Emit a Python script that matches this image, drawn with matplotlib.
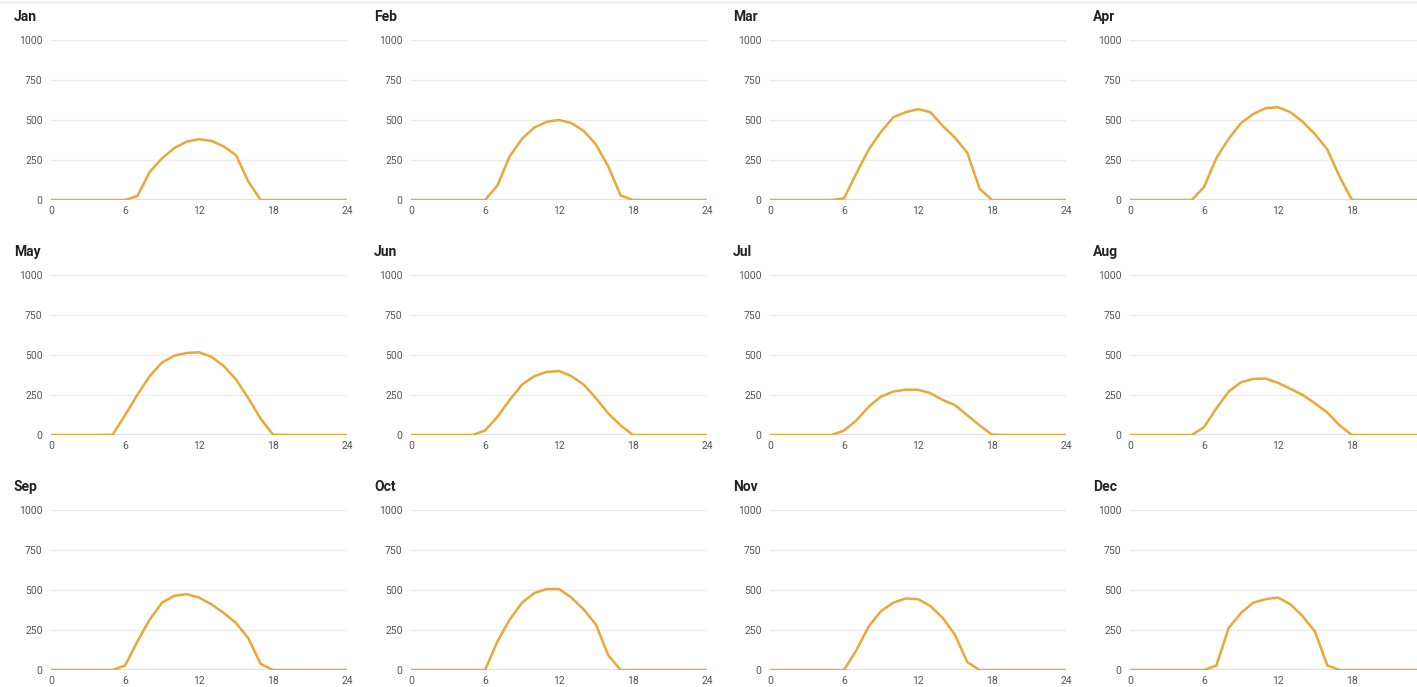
import numpy as np
import matplotlib.pyplot as plt

months = ["Jan", "Feb", "Mar", "Apr", "May", "Jun",
          "Jul", "Aug", "Sep", "Oct", "Nov", "Dec"]
hours = list(range(25))

# hourly values (W/m2-ish)
jan = [0, 0, 0, 0, 0, 0, 0, 25, 175, 260, 325, 365, 380, 370, 335, 280, 115, 0, 0, 0, 0, 0, 0, 0, 0]
feb = [0, 0, 0, 0, 0, 0, 0, 90, 272, 383, 453, 489, 500, 481, 432, 347, 209, 28, 0, 0, 0, 0, 0, 0, 0]
mar = [0, 0, 0, 0, 0, 0, 10, 166, 315, 426, 517, 549, 568, 549, 464, 389, 294, 70, 0, 0, 0, 0, 0, 0, 0]
apr = [0, 0, 0, 0, 0, 0, 81, 262, 383, 481, 538, 574, 580, 549, 489, 411, 315, 145, 0, 0, 0, 0, 0, 0, 0]
may = [0, 0, 0, 0, 0, 2, 123, 251, 368, 453, 496, 513, 517, 489, 432, 347, 230, 102, 2, 0, 0, 0, 0, 0, 0]
jun = [0, 0, 0, 0, 0, 0, 28, 113, 219, 315, 368, 394, 400, 368, 315, 230, 134, 60, 0, 0, 0, 0, 0, 0, 0]
jul = [0, 0, 0, 0, 0, 0, 28, 91, 177, 240, 272, 283, 283, 262, 219, 187, 123, 60, 2, 0, 0, 0, 0, 0, 0]
aug = [0, 0, 0, 0, 0, 0, 49, 166, 272, 330, 351, 353, 326, 289, 251, 198, 140, 60, 0, 0, 0, 0, 0, 0, 0]
sep = [0, 0, 0, 0, 0, 0, 28, 177, 315, 421, 464, 474, 453, 411, 357, 294, 198, 38, 0, 0, 0, 0, 0, 0, 0]
oct_ = [0, 0, 0, 0, 0, 0, 0, 177, 315, 421, 481, 506, 506, 453, 379, 283, 91, 0, 0, 0, 0, 0, 0, 0, 0]
nov = [0, 0, 0, 0, 0, 0, 0, 123, 272, 368, 421, 447, 443, 400, 326, 219, 49, 0, 0, 0, 0, 0, 0, 0, 0]
dec = [0, 0, 0, 0, 0, 0, 0, 28, 262, 357, 421, 443, 453, 411, 336, 240, 28, 0, 0, 0, 0, 0, 0, 0, 0]
series = [jan, feb, mar, apr, may, jun, jul, aug, sep, oct_, nov, dec]

yticks = [0, 250, 500, 750, 1000]
xticks = [0, 6, 12, 18, 24]

plt.rcParams['font.family'] = ['Roboto', 'DejaVu Sans']

W, H = 1417, 687
fig = plt.figure(figsize=(W / 100, H / 100), dpi=100)

# thin border line at the very top
fig.add_artist(plt.Line2D([0, 1], [1 - 2 / H, 1 - 2 / H], color="#e6e6e6", lw=1))

col_x = [51, 411, 770, 1130]
row_zero = [200, 435, 670]
pw, ph = 296, 160

for i, (name, vals) in enumerate(zip(months, series)):
    r, c = divmod(i, 4)
    left = col_x[c] / W
    bottom = 1 - row_zero[r] / H
    ax = fig.add_axes([left, bottom, pw / W, ph / H])
    ax.set_xlim(0, 24)
    ax.set_ylim(0, 1000)
    for y in yticks[1:]:
        ax.axhline(y, color="#ebebeb", lw=0.9, zorder=0)
    ax.axhline(0, color="#dde1ef", lw=1.6, zorder=1)
    ax.plot(hours, vals, color="#e9a83a", lw=1.8, zorder=3, solid_joinstyle="round")
    ax.set_yticks(yticks)
    ax.set_xticks(xticks)
    ax.tick_params(length=0, labelsize=7.5, labelcolor="#555555")
    ax.tick_params(axis="y", pad=6)
    ax.tick_params(axis="x", pad=4)
    for s in ax.spines.values():
        s.set_visible(False)
    ax.patch.set_alpha(0)
    ax.clip_on = False
    fig.text((col_x[c] - 37) / W, 1 - (row_zero[r] - 183) / H, name,
             fontsize=10, fontweight="bold", color="#222222", va="center", ha="left")

fig.savefig("out.png", dpi=100)
